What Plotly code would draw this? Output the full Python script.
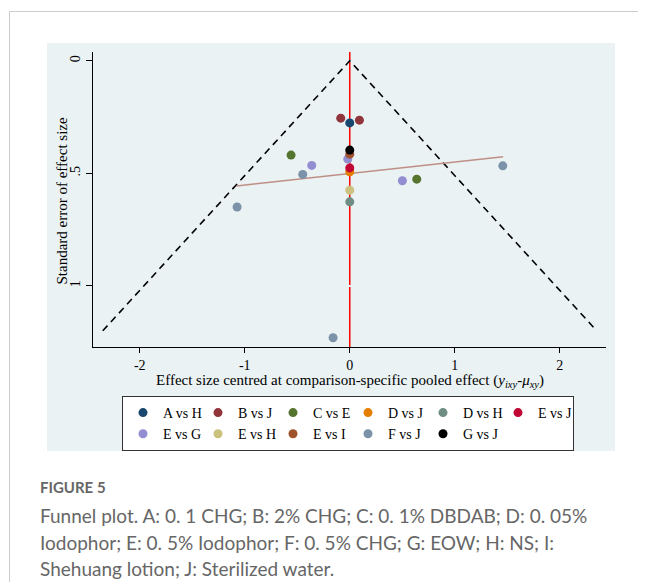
import plotly.graph_objects as go

# page body has an 8px margin in the browser; figure is sized/shifted to fit the window
OFF = 8
W, H = 646 - OFF, 582 - OFF

# ---------------- data ----------------
series_names = ["A vs H", "B vs J", "C vs E", "D vs J", "D vs H", "E vs J",
                "E vs G", "E vs H", "E vs I", "F vs J", "G vs J"]
series_colors = ["#1a476f", "#90353b", "#55752f", "#e37e00", "#6e8e84", "#c10534",
                 "#938dd2", "#cac27e", "#a0522d", "#7b92a8", "#000000"]
series_x = [
    [0.0],
    [-0.086, 0.092],
    [-0.559, 0.638],
    [0.0],
    [0.0],
    [0.0],
    [-0.362, 0.501, -0.019],
    [0.0],
    [0.0],
    [-0.448, -1.073, -0.159, 1.457],
    [0.0],
]
series_se = [
    [0.276],
    [0.255, 0.264],
    [0.419, 0.526],
    [0.493],
    [0.627],
    [0.476],
    [0.465, 0.533, 0.437],
    [0.575],
    [0.415],
    [0.505, 0.650, 1.231, 0.467],
    [0.397],
]
funnel_x = [-2.352, 0.0, 2.352]
funnel_se = [1.2, 0.0, 1.2]
reg_x = [-1.076, 1.46]
reg_se = [0.556, 0.427]

x_ticks = [-2, -1, 0, 1, 2]
x_ticklabels = ["-2", "-1", "0", "1", "2"]
y_ticks = [0, 0.5, 1]
y_ticklabels = ["0", ".5", "1"]

caption_title = "FIGURE 5"
caption_lines = [
    "Funnel plot. A: 0. 1 CHG; B: 2% CHG; C: 0. 1% DBDAB; D: 0. 05%",
    "Iodophor; E: 0. 5% Iodophor; F: 0. 5% CHG; G: EOW; H: NS; I:",
    "Shehuang lotion; J: Sterilized water.",
]

# ---------------- geometry (window px) ----------------
plot_l, plot_r, plot_t, plot_b = 93, 606, 52, 347
panel_l, panel_r, panel_t, panel_b = 47, 615, 43, 451

# horizontal margins so that the "paper" spans the plot area exactly
ML = plot_l - OFF
MR = 646 - plot_r
GW = W - ML - MR

def px(x):
    return (x - OFF - ML) / GW

def py(y):
    return 1 - (y - OFF) / H

SERIF = "Liberation Serif"
fig = go.Figure()

# funnel
fig.add_trace(go.Scatter(x=funnel_x, y=funnel_se, mode="lines",
                         line=dict(color="black", width=1.6, dash="7px,5px"),
                         showlegend=False, hoverinfo="skip"))
# regression line
fig.add_trace(go.Scatter(x=reg_x, y=reg_se, mode="lines",
                         line=dict(color="#bf8f86", width=1.5),
                         showlegend=False, hoverinfo="skip"))

for name, col, xs, ys in zip(series_names, series_colors, series_x, series_se):
    fig.add_trace(go.Scatter(x=xs, y=ys, mode="markers", name=name,
                             marker=dict(color=col, size=9, line=dict(width=0))))

shapes = [
    # page border lines
    dict(type="line", xref="paper", yref="paper", x0=px(9.5), x1=px(9.5), y0=0, y1=py(11.5),
         line=dict(color="#cccccc", width=1)),
    dict(type="line", xref="paper", yref="paper", x0=px(9.5), x1=px(646), y0=py(11.5), y1=py(11.5),
         line=dict(color="#cccccc", width=1)),
    # panel
    dict(type="rect", xref="paper", yref="paper", x0=px(panel_l), x1=px(panel_r),
         y0=py(panel_b), y1=py(panel_t), fillcolor="#eaf2f3", line=dict(width=0), layer="below"),
    # zero line
    dict(type="line", xref="x", yref="y domain", x0=0, x1=0, y0=0, y1=1,
         line=dict(color="#ff0000", width=1.5), layer="below"),
]

annotations = [
    dict(text="Standard error of effect size", xref="paper", yref="paper",
         x=px(62), y=py((plot_t + plot_b) / 2 + 2), textangle=-90, showarrow=False,
         font=dict(family=SERIF, size=15, color="black"), xanchor="center", yanchor="middle"),
    dict(text="Effect size centred at comparison-specific pooled effect (<i>y<sub>ixy</sub></i>-<i>μ<sub>xy</sub></i>)",
         xref="paper", yref="paper", x=px(350), y=py(381), showarrow=False,
         font=dict(family=SERIF, size=15, color="black"), xanchor="center", yanchor="middle"),
    dict(text="<b>" + caption_title + "</b>", xref="paper", yref="paper", x=px(38), y=py(487),
         showarrow=False, font=dict(family="Lato", size=15, color="#666666"),
         xanchor="left", yanchor="middle"),
]
for i, line in enumerate(caption_lines):
    annotations.append(dict(text=line, xref="paper", yref="paper", x=px(38), y=py(516 + 26 * i),
                            showarrow=False, font=dict(family="Lato", size=19, color="#666666"),
                            xanchor="left", yanchor="middle"))

fig.update_layout(
    width=W, height=H, autosize=False,
    margin=dict(l=ML, r=MR, t=0, b=0, autoexpand=False),
    paper_bgcolor="white", plot_bgcolor="white",
    shapes=shapes, annotations=annotations,
    xaxis=dict(domain=[0, 1], range=[-2.445, 2.44],
               tickvals=x_ticks, ticktext=x_ticklabels, ticks="outside", ticklen=5,
               tickcolor="black", showgrid=False, zeroline=False, showline=True,
               linecolor="black", linewidth=1,
               tickfont=dict(family=SERIF, size=14, color="black")),
    yaxis=dict(domain=[py(plot_b), py(plot_t)], range=[1.272, -0.039],
               tickvals=y_ticks, ticktext=y_ticklabels, ticks="outside", ticklen=6,
               tickcolor="black", tickangle=-90, showgrid=True, gridcolor="#eaf2f3",
               gridwidth=1.5, zeroline=False, showline=True, linecolor="black", linewidth=1,
               tickfont=dict(family=SERIF, size=14, color="black")),
    legend=dict(orientation="h", x=px(122), y=py(396), xanchor="left", yanchor="top",
                bgcolor="white", bordercolor="#333333", borderwidth=1,
                entrywidth=30, entrywidthmode="pixels", itemwidth=30,
                font=dict(family=SERIF, size=14, color="black"), tracegroupgap=0),
    showlegend=True,
)

fig.write_html("out.html")
